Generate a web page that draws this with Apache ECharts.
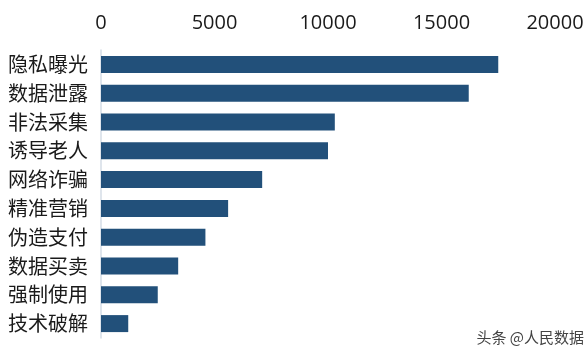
<!DOCTYPE html>
<html>
<head>
<meta charset="utf-8">
<script src="https://cdn.jsdelivr.net/npm/echarts@6/dist/echarts.min.js"></script>
<style>
  html, body { margin: 0; padding: 0; background: #ffffff; }
  #chart { width: 588px; height: 348px; }
</style>
</head>
<body>
<div id="chart"></div>
<script>
// Categories, top to bottom
const categories = ['隐私曝光', '数据泄露', '非法采集', '诱导老人', '网络诈骗', '精准营销', '伪造支付', '数据买卖', '强制使用', '技术破解'];
// Number of cases per category
const counts = [17500, 16200, 10300, 10000, 7100, 5600, 4600, 3400, 2500, 1200];
// Value axis ticks
const tickValues = [0, 5000, 10000, 15000, 20000];

const chart = echarts.init(document.getElementById('chart'), null, { renderer: 'canvas' });

const textFont = '"Noto Sans CJK SC", "Noto Sans", sans-serif';

chart.setOption({
  backgroundColor: '#ffffff',
  animation: false,
  grid: { left: 101, top: 50, width: 454, height: 288, containLabel: false },
  xAxis: {
    type: 'value',
    position: 'top',
    min: tickValues[0],
    max: tickValues[tickValues.length - 1],
    interval: tickValues[1] - tickValues[0],
    axisLine: { show: false },
    axisTick: { show: false },
    splitLine: { show: false },
    axisLabel: {
      margin: 17,
      color: '#1a1a1a',
      fontSize: 20,
      fontFamily: '"Open Sans", "Noto Sans", sans-serif',
      formatter: (v) => String(v)
    }
  },
  yAxis: {
    type: 'category',
    inverse: true,
    data: categories,
    axisLine: { show: true, lineStyle: { color: '#d5dde6', width: 1.5 } },
    axisTick: { show: false },
    axisLabel: {
      margin: 13,
      color: '#1a1a1a',
      fontSize: 20,
      fontFamily: textFont
    }
  },
  series: [{
    type: 'bar',
    data: counts,
    barCategoryGap: '41%',
    itemStyle: { color: '#22507a' }
  }],
  graphic: [{
    type: 'text',
    right: 4,
    bottom: 3,
    style: {
      text: '头条 @人民数据',
      fill: '#444444',
      fontSize: 15,
      fontFamily: textFont
    }
  }]
});
</script>
</body>
</html>
